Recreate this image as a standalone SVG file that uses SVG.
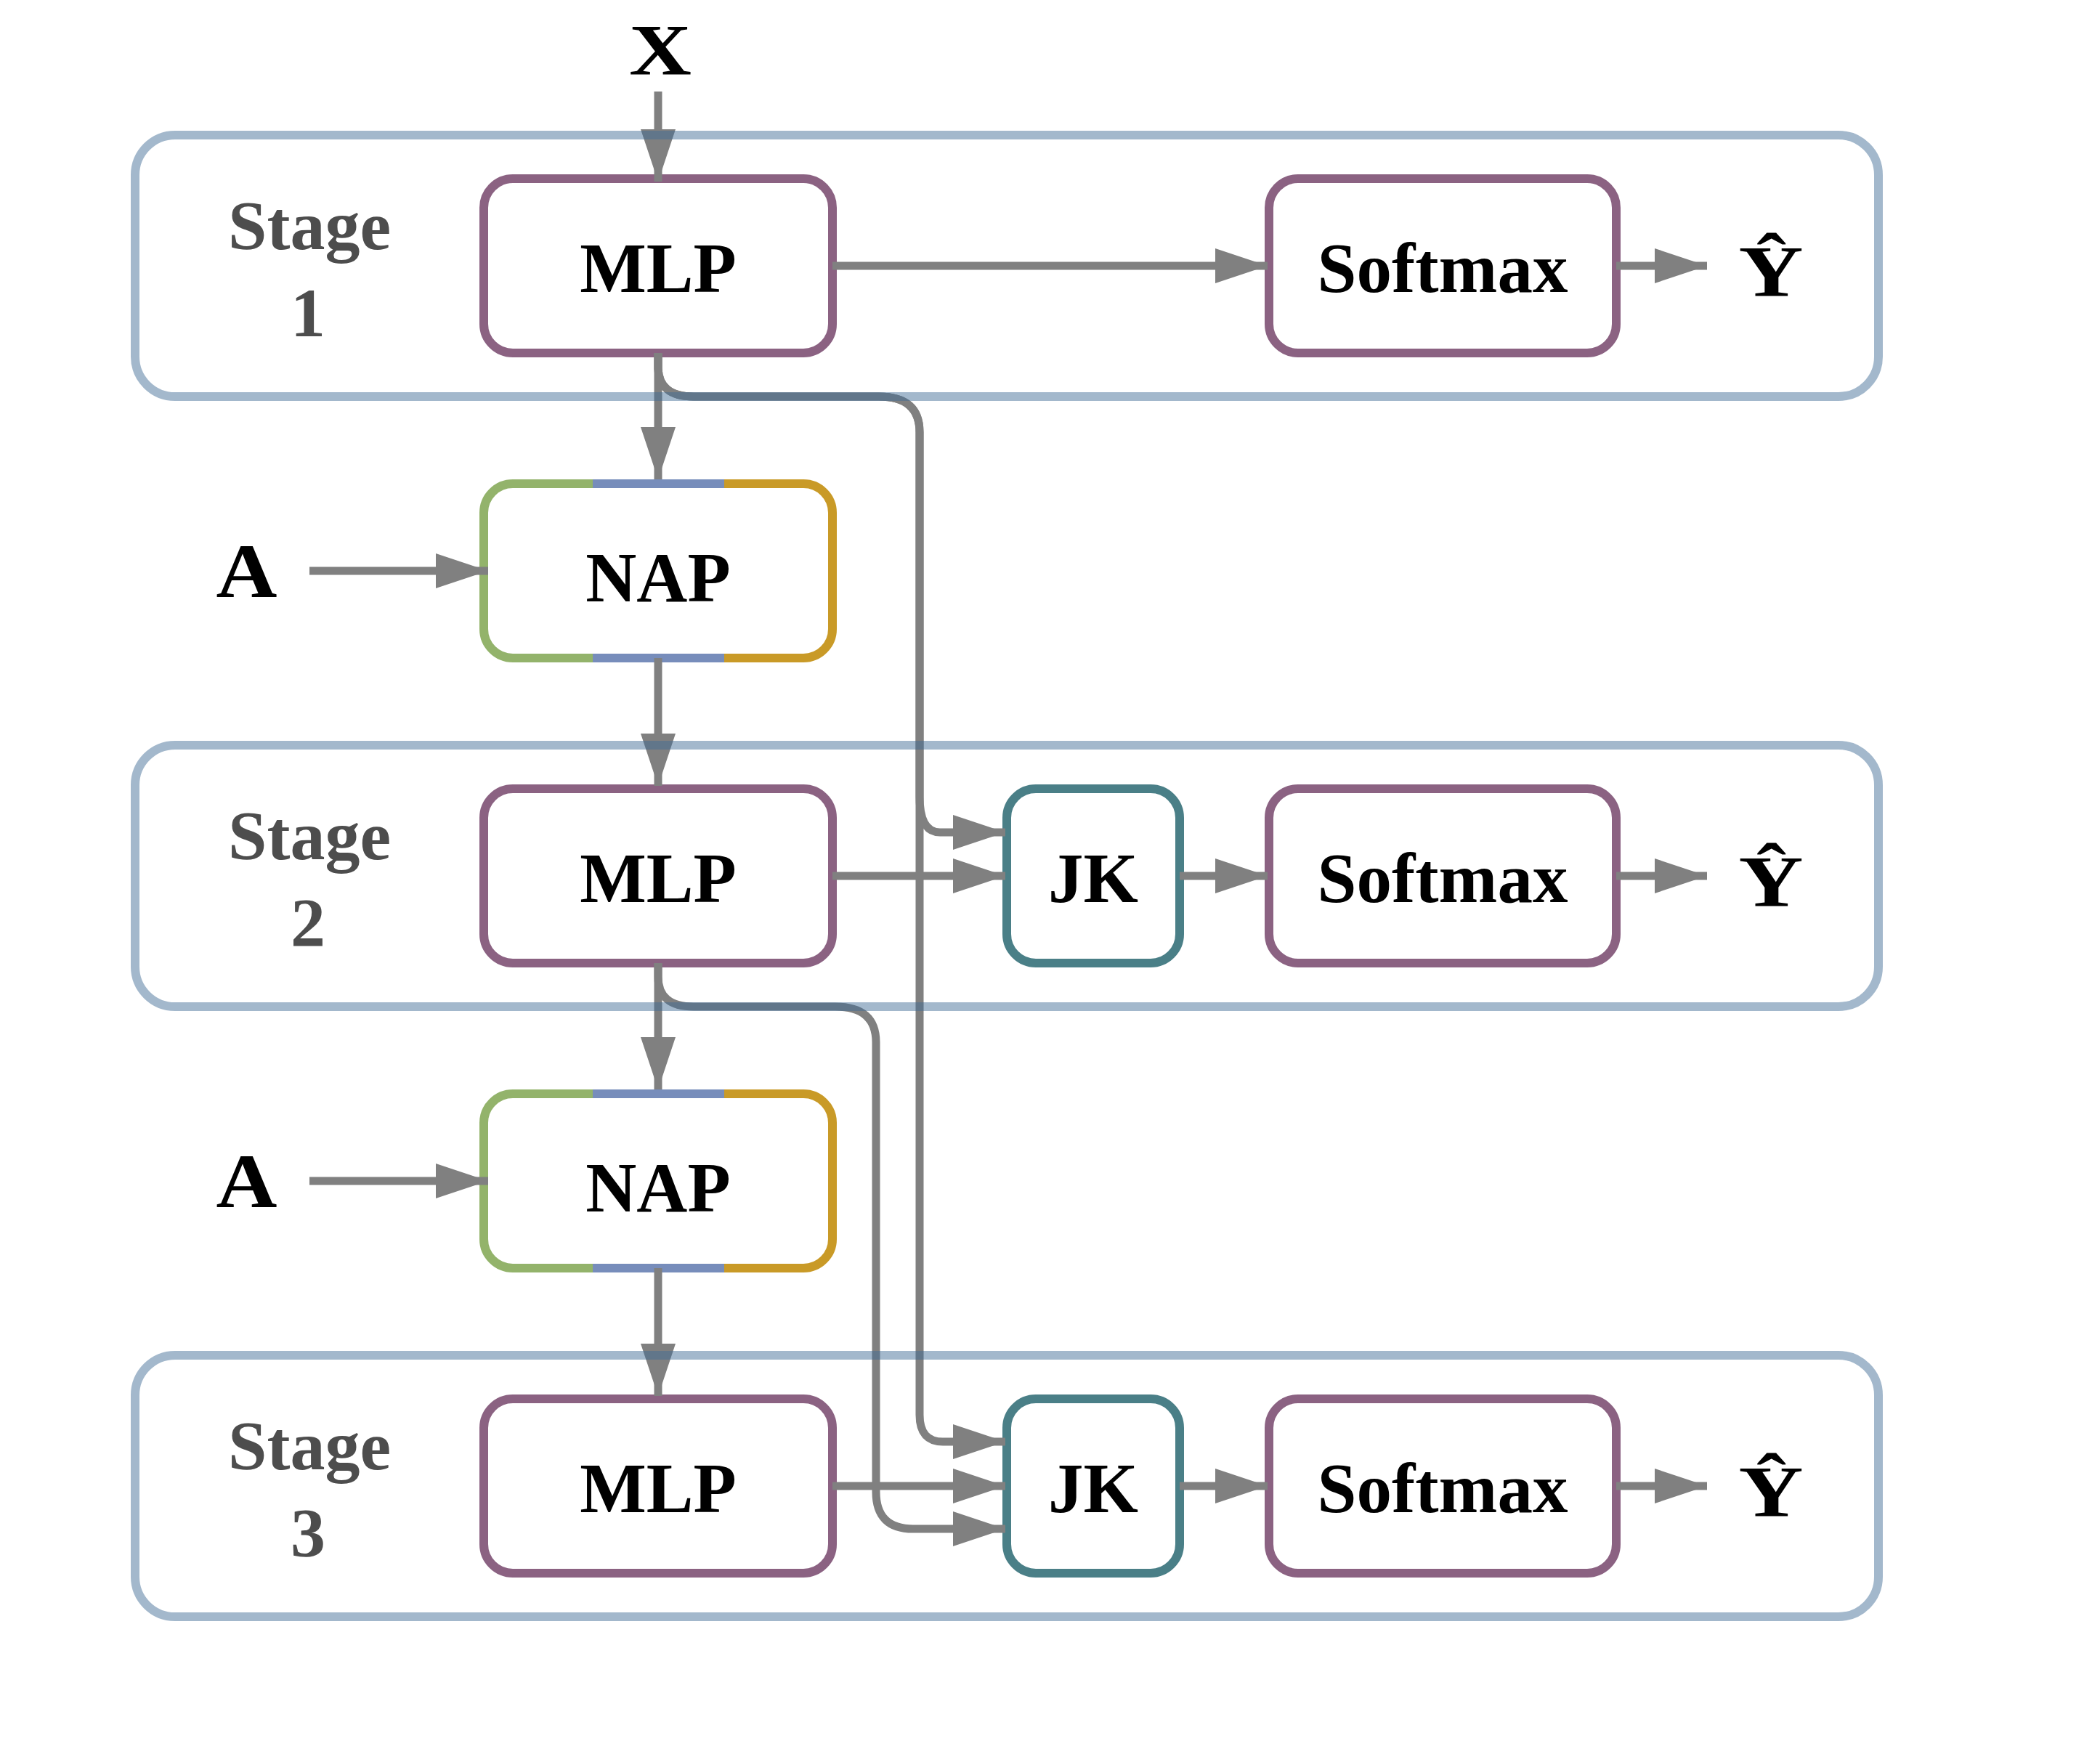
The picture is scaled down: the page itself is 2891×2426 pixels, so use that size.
<svg xmlns="http://www.w3.org/2000/svg" width="2891" height="2426" viewBox="0 0 2891 2426">
<style>
.bg{fill:#ffffff}
.node{fill:#ffffff;stroke-width:12}
.mlp{stroke:#8b6282}
.jk{stroke:#4a7f87}
.seg{fill:none;stroke-width:12;stroke-linecap:butt}
.g{stroke:#93b36b}.b{stroke:#778dbb}.o{stroke:#c99a27}
.lbl{font-family:"Liberation Serif","Times New Roman",serif;font-weight:bold;font-size:97px;fill:#000;text-anchor:middle}
.stl{font-family:"Liberation Serif","Times New Roman",serif;font-weight:bold;font-size:96px;fill:#4d4d4d;text-anchor:middle}
.math{font-family:"Liberation Serif","Times New Roman",serif;font-weight:bold;fill:#000;text-anchor:middle}
.edge{fill:none;stroke:#808080;stroke-width:11;marker-end:url(#ah)}
.edge2{fill:none;stroke:#808080;stroke-width:11}
.stage{fill:none;stroke:rgb(63,107,149);stroke-opacity:0.48;stroke-width:12}
</style>
<defs>
<marker id="ah" markerUnits="userSpaceOnUse" markerWidth="72" markerHeight="48" viewBox="0 0 72 48" refX="72" refY="24" orient="auto">
<path d="M0,0 L72,24 L0,48 Z" fill="#808080"/>
</marker>
</defs>
<rect class="bg" x="0" y="0" width="2891" height="2426"/>

<g id="labels">
<text class="math" x="909" y="101.7" font-size="100" textLength="86" lengthAdjust="spacingAndGlyphs">X</text>
<text class="math" x="339.5" y="821.7" font-size="106" textLength="84" lengthAdjust="spacingAndGlyphs">A</text>
<text class="math" x="339.5" y="1661.7" font-size="106" textLength="84" lengthAdjust="spacingAndGlyphs">A</text>
<text class="math" x="2438" y="407.3" font-size="99" textLength="89" lengthAdjust="spacingAndGlyphs">Ŷ</text>
<text class="math" x="2438" y="1247.3" font-size="99" textLength="89" lengthAdjust="spacingAndGlyphs">Ŷ</text>
<text class="math" x="2438" y="2087.3" font-size="99" textLength="89" lengthAdjust="spacingAndGlyphs">Ŷ</text>
<text class="stl" x="426"><tspan x="426" y="342.5">Stage</tspan><tspan x="424" y="462.5">1</tspan></text>
<text class="stl" x="426"><tspan x="426" y="1182.5">Stage</tspan><tspan x="424" y="1302.5">2</tspan></text>
<text class="stl" x="426"><tspan x="426" y="2022.5">Stage</tspan><tspan x="424" y="2142.5">3</tspan></text>
</g>

<g id="mlp1"><rect class="node mlp" x="666" y="246" width="480" height="240" rx="40"/><text class="lbl" x="906" y="402">MLP</text></g>
<g id="softmax1"><rect class="node mlp" x="1747" y="246" width="478" height="240" rx="40"/><text class="lbl" x="1986" y="402">Softmax</text></g>

<g id="nap1">
<rect x="666" y="666" width="480" height="240" rx="40" fill="#ffffff"/>
<path class="seg g" d="M816,666 L706,666 A40,40 0 0 0 666,706 L666,866 A40,40 0 0 0 706,906 L816,906"/>
<path class="seg b" d="M816,666 L997,666 M816,906 L997,906"/>
<path class="seg o" d="M997,666 L1106,666 A40,40 0 0 1 1146,706 L1146,866 A40,40 0 0 1 1106,906 L997,906"/>
<text class="lbl" x="906" y="828">NAP</text>
</g>

<g id="mlp2"><rect class="node mlp" x="666" y="1086" width="480" height="240" rx="40"/><text class="lbl" x="906" y="1242">MLP</text></g>
<g id="jk2"><rect class="node jk" x="1386" y="1086" width="238" height="240" rx="40"/><text class="lbl" x="1505" y="1242">JK</text></g>
<g id="softmax2"><rect class="node mlp" x="1747" y="1086" width="478" height="240" rx="40"/><text class="lbl" x="1986" y="1242">Softmax</text></g>

<g id="nap2">
<rect x="666" y="1506" width="480" height="240" rx="40" fill="#ffffff"/>
<path class="seg g" d="M816,1506 L706,1506 A40,40 0 0 0 666,1546 L666,1706 A40,40 0 0 0 706,1746 L816,1746"/>
<path class="seg b" d="M816,1506 L997,1506 M816,1746 L997,1746"/>
<path class="seg o" d="M997,1506 L1106,1506 A40,40 0 0 1 1146,1546 L1146,1706 A40,40 0 0 1 1106,1746 L997,1746"/>
<text class="lbl" x="906" y="1668">NAP</text>
</g>

<g id="mlp3"><rect class="node mlp" x="666" y="1926" width="480" height="240" rx="40"/><text class="lbl" x="906" y="2082">MLP</text></g>
<g id="jk3"><rect class="node jk" x="1386" y="1926" width="238" height="240" rx="40"/><text class="lbl" x="1505" y="2082">JK</text></g>
<g id="softmax3"><rect class="node mlp" x="1747" y="1926" width="478" height="240" rx="40"/><text class="lbl" x="1986" y="2082">Softmax</text></g>

<g id="connectors">
<path class="edge" d="M906,126 L906,250"/>
<path class="edge" d="M906,486 L906,660"/>
<path class="edge" d="M426,786 L672,786"/>
<path class="edge" d="M906,906 L906,1082"/>
<path class="edge" d="M1146,366 L1745,366"/>
<path class="edge" d="M2225,366 L2350,366"/>
<path class="edge" d="M1146,1206 L1384,1206"/>
<path class="edge" d="M1624,1206 L1745,1206"/>
<path class="edge" d="M2225,1206 L2350,1206"/>
<path class="edge" d="M906,1326 L906,1500"/>
<path class="edge" d="M426,1626 L672,1626"/>
<path class="edge" d="M906,1746 L906,1922"/>
<path class="edge" d="M1146,2046 L1384,2046"/>
<path class="edge" d="M1624,2046 L1745,2046"/>
<path class="edge" d="M2225,2046 L2350,2046"/>
<path class="edge" d="M906,486 L906,505 Q906,546 955,546 L1210,546 Q1266,546 1266,595 L1266,1097 Q1266,1146 1294,1146 L1384,1146"/>
<path class="edge" d="M906,486 L906,505 Q906,546 955,546 L1210,546 Q1266,546 1266,595 L1266,1948 Q1266,1985 1298,1985 L1384,1985"/>
<path class="edge" d="M906,1326 L906,1345 Q906,1386 955,1386 L1150,1386 Q1206,1386 1206,1435 L1206,2054 Q1206,2105 1257,2105 L1384,2105"/>
</g>

<g id="stages">
<rect id="stage1" class="stage" x="186" y="186" width="2400" height="360" rx="55"/>
<rect id="stage2" class="stage" x="186" y="1026" width="2400" height="360" rx="55"/>
<rect id="stage3" class="stage" x="186" y="1866" width="2400" height="360" rx="55"/>
</g>
</svg>
